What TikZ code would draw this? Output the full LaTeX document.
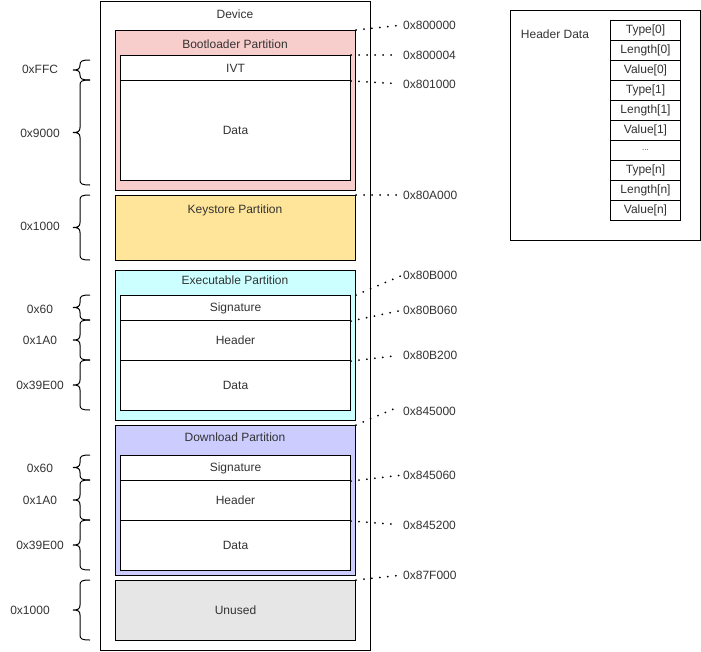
\documentclass[tikz,border=0pt]{standalone}
\usepackage{fontspec}
\setmainfont{Liberation Sans}
\definecolor{bootc}{HTML}{F8CECC}
\definecolor{keyc}{HTML}{FFE599}
\definecolor{exec}{HTML}{CCFFFF}
\definecolor{dlc}{HTML}{CCCCFF}
\definecolor{unc}{HTML}{E6E6E6}
\newcommand\mybrace[2]{%
 \pgfmathsetmacro\bm{(#1+#2)/2}%
 \draw[brc] (90,#1) .. controls (82,#1) and (80,#1+1) .. (80,#1+5) -- (80,\bm-5) .. controls (80,\bm-1) and (78,\bm) .. (73,\bm) .. controls (78,\bm) and (80,\bm+1) .. (80,\bm+5) -- (80,#2-5) .. controls (80,#2-1) and (82,#2) .. (90,#2);}
\begin{document}
\begin{tikzpicture}[x=1pt,y=-1pt,
  every node/.style={font=\fontsize{12}{14}\selectfont, text=black!80},
  box/.style={draw=black,line width=1pt,inner sep=0pt,anchor=north west},
  ttl/.style={inner sep=0pt},
  lab/.style={inner sep=0pt},
  addr/.style={inner sep=0pt,anchor=west},
  dotl/.style={line width=2pt,line cap=round,dash pattern=on 0pt off 8pt},
  brc/.style={line width=1pt}]
\useasboundingbox (0,0) rectangle (701,651);
% device
\node[box,minimum width=270pt,minimum height=649.5pt] (dev) at (100,0.5) {};
\node[ttl] (devT) at (235,14) {Device};
% bootloader
\node[box,minimum width=240pt,minimum height=160pt,fill=bootc] (boot) at (115,30) {};
\node[ttl] (bootT) at (235,44) {Bootloader Partition};
\node[box,minimum width=230pt,minimum height=25pt,fill=white] (ivt) at (120,55) {IVT};
\node[box,minimum width=230pt,minimum height=100pt,fill=white] (bdata) at (120,80) {Data};
% keystore
\node[box,minimum width=240pt,minimum height=65pt,fill=keyc] (key) at (115,195) {};
\node[ttl] (keyT) at (235,210) {Keystore Partition};
% executable
\node[box,minimum width=240pt,minimum height=150pt,fill=exec] (exe) at (115,270) {};
\node[ttl] (exeT) at (235,280) {Executable Partition};
\node[box,minimum width=230pt,minimum height=25pt,fill=white] (esig) at (120,295) {Signature};
\node[box,minimum width=230pt,minimum height=40pt,fill=white] (ehdr) at (120,320) {Header};
\node[box,minimum width=230pt,minimum height=50pt,fill=white] (edata) at (120,360) {Data};
% download
\node[box,minimum width=240pt,minimum height=150pt,fill=dlc] (dl) at (115,425) {};
\node[ttl] (dlT) at (235,437) {Download Partition};
\node[box,minimum width=230pt,minimum height=25pt,fill=white] (dsig) at (120,455) {Signature};
\node[box,minimum width=230pt,minimum height=40pt,fill=white] (dhdr) at (120,480) {Header};
\node[box,minimum width=230pt,minimum height=50pt,fill=white] (ddata) at (120,520) {Data};
% unused
\node[box,minimum width=240pt,minimum height=60pt,fill=unc] (un) at (115,580) {Unused};
% braces
\mybrace{60}{80}
\mybrace{80}{185}
\mybrace{195}{260}
\mybrace{295}{320}
\mybrace{320}{360}
\mybrace{360}{410}
\mybrace{455}{480}
\mybrace{480}{520}
\mybrace{520}{570}
\mybrace{580}{640}
\node[lab] (s1) at (40,69) {0xFFC};
\node[lab] (s2) at (40,133) {0x9000};
\node[lab] (s3) at (40,226) {0x1000};
\node[lab] (s4) at (40,309) {0x60};
\node[lab] (s5) at (40,340) {0x1A0};
\node[lab] (s6) at (40,385) {0x39E00};
\node[lab] (s7) at (40,468) {0x60};
\node[lab] (s8) at (40,500) {0x1A0};
\node[lab] (s9) at (40,545) {0x39E00};
\node[lab] (s10) at (30,610) {0x1000};
% addresses
\node[addr] (a1) at (403,25) {0x800000};
\node[addr] (a2) at (403,55) {0x800004};
\node[addr] (a3) at (403,84) {0x801000};
\node[addr] (a4) at (403,195) {0x80A000};
\node[addr] (a5) at (403,275) {0x80B000};
\node[addr] (a6) at (403,310) {0x80B060};
\node[addr] (a7) at (403,355) {0x80B200};
\node[addr] (a8) at (403,411) {0x845000};
\node[addr] (a9) at (403,475) {0x845060};
\node[addr] (a10) at (403,525) {0x845200};
\node[addr] (a11) at (403,575) {0x87F000};
\draw[dotl,shorten >=5pt] (boot.north east) -- (a1.west);
\draw[dotl,shorten >=5pt] (ivt.north east) -- (a2.west);
\draw[dotl,shorten >=5pt] (ivt.south east) -- (a3.west);
\draw[dotl,shorten >=5pt] (key.north east) -- (a4.west);
\draw[dotl,shorten >=3pt] (exe.east |- esig.north) -- (a5.west);
\draw[dotl,shorten >=3pt] (esig.south east) -- (a6.west);
\draw[dotl,shorten >=10pt] (ehdr.south east) -- (a7.west);
\draw[dotl,shorten >=7pt] (dl.north east) -- ([yshift=6pt]a8.west);
\draw[dotl,shorten >=3pt] (dsig.south east) -- (a9.west);
\draw[dotl,shorten >=10pt] (dhdr.south east) -- (a10.west);
\draw[dotl,shorten >=6pt] (un.north east) -- (a11.west);
% header data
\node[box,minimum width=190pt,minimum height=230pt] (hd) at (510,10) {};
\node[ttl] (hdT) at (555,34) {Header Data};
\node[box,minimum width=70pt,minimum height=20pt,fill=white] (t0) at (610,20) {Type[0]};
\node[box,minimum width=70pt,minimum height=20pt,fill=white] (l0) at (610,40) {Length[0]};
\node[box,minimum width=70pt,minimum height=20pt,fill=white] (v0) at (610,60) {Value[0]};
\node[box,minimum width=70pt,minimum height=20pt,fill=white] (t1) at (610,80) {Type[1]};
\node[box,minimum width=70pt,minimum height=20pt,fill=white] (l1) at (610,100) {Length[1]};
\node[box,minimum width=70pt,minimum height=20pt,fill=white] (v1) at (610,120) {Value[1]};
\node[box,minimum width=70pt,minimum height=20pt,fill=white,font=\fontsize{8}{10}\selectfont] (dd) at (610,140) {...};
\node[box,minimum width=70pt,minimum height=20pt,fill=white] (tn) at (610,160) {Type[n]};
\node[box,minimum width=70pt,minimum height=20pt,fill=white] (ln) at (610,180) {Length[n]};
\node[box,minimum width=70pt,minimum height=20pt,fill=white] (vn) at (610,200) {Value[n]};
\end{tikzpicture}
\end{document}
